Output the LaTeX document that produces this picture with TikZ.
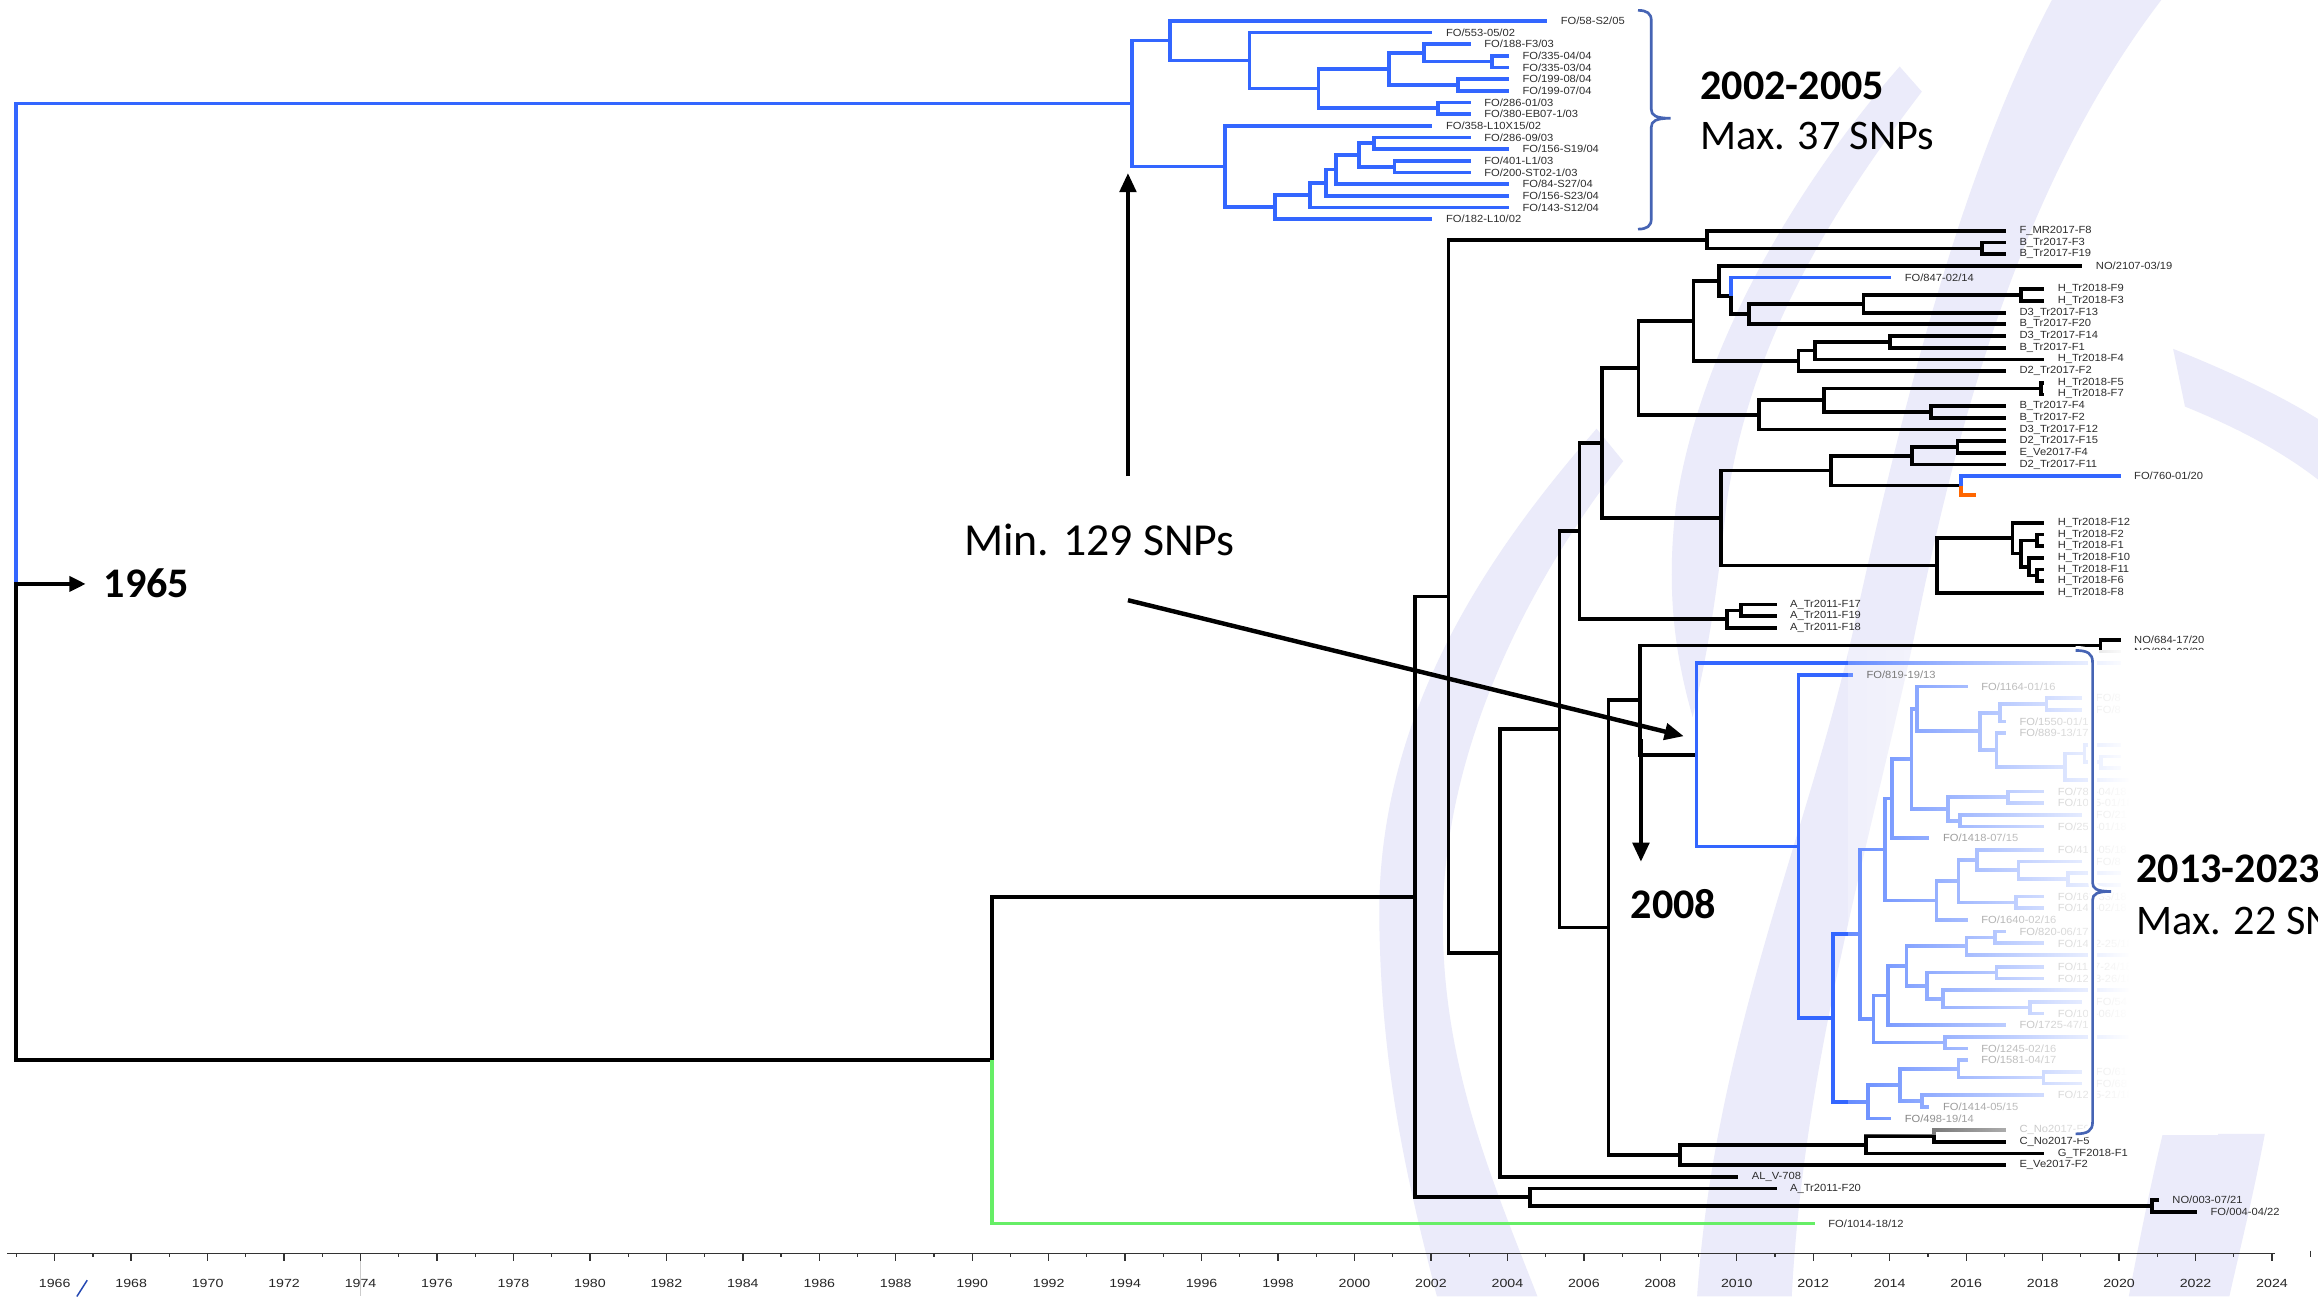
\documentclass[tikz,border=0pt]{standalone}
\usepackage{fontspec}
\setmainfont{Liberation Sans}
\newfontfamily\calib{Carlito}
\usetikzlibrary{arrows.meta,fadings}
\definecolor{tb}{RGB}{51,102,255}
\definecolor{gr}{RGB}{102,238,102}
\definecolor{orng}{RGB}{255,102,0}
\definecolor{brk}{RGB}{70,100,180}
\definecolor{wm}{RGB}{235,235,250}
\definecolor{lblc}{RGB}{45,45,45}
\tikzfading[name=fadeR, left color=transparent!75, right color=transparent!0]
\newcommand\Yr[1]{14+7.9*(#1)}
\newcommand\Tx[1]{38+((#1)-1966)*25.86}
\newcommand\nd[3]{\coordinate (#1) at (#2,{\Yr{#3}});}
\newcommand\lf[4]{\coordinate (#1) at ({\Tx{#2}},{\Yr{#3}});\node[lbl] (#1t) at ([xshift=9pt]#1) {#4};}
\newcommand\lfn[3]{\coordinate (#1) at ({\Tx{#2}},{\Yr{#3}});}
\newcommand\ek[2]{\draw[br] (#1) |- (#2);}
\newcommand\eb[2]{\draw[br,tb] (#1) |- (#2);}
\begin{document}
\begin{tikzpicture}[x=1pt,y=-1pt,
  br/.style={line width=2.5pt},
  lbl/.style={font=\fontsize{7}{8}\selectfont, text=lblc, inner sep=0pt, anchor=west, xscale=1.08},
  ax/.style={font=\fontsize{8}{9}\selectfont, text=black!85, inner sep=0pt, xscale=1.2},
  bigb/.style={font=\calib\bfseries\fontsize{28.5}{30}\selectfont, anchor=base west, inner sep=0pt},
  bign/.style={font=\calib\fontsize{28.5}{30}\selectfont, anchor=base west, inner sep=0pt},
  arr/.style={line width=3pt, -{Triangle[length=13pt,width=11pt]}},
  axc/.style={draw=black!80}]
\fill[white] (0,0) rectangle (1568,877);
\useasboundingbox (0,0) rectangle (1568,877);
\clip (0,0) rectangle (1568,877);
% watermark
\fill[wm] (1080,290) .. controls (1010,370) and (932,480) .. (933,620) .. controls (934,730) and (955,810) .. (972,877) -- (1040,877) .. controls (1010,800) and (975,720) .. (976,620) .. controls (977,500) and (1040,385) .. (1098,312) -- cycle;
\fill[wm] (1388,0) .. controls (1330,110) and (1290,260) .. (1255,420) .. controls (1225,560) and (1160,700) .. (1148,877) -- (1212,877) .. controls (1220,720) and (1265,570) .. (1295,430) .. controls (1325,280) and (1370,120) .. (1462,0) -- cycle;
\fill[wm] (1285,45) .. controls (1215,125) and (1150,235) .. (1134,340) .. controls (1127,395) and (1132,440) .. (1145,485) .. controls (1158,430) and (1163,385) .. (1168,340) .. controls (1182,245) and (1225,160) .. (1300,62) -- cycle;
\fill[wm] (1470,236) .. controls (1505,250) and (1545,268) .. (1575,288) -- (1575,330) .. controls (1545,305) and (1510,288) .. (1478,275) -- cycle;
\fill[wm] (1463,767) -- (1532,767) .. controls (1524,810) and (1514,850) .. (1508,877) -- (1440,877) .. controls (1447,840) and (1455,800) .. (1463,767) -- cycle;
\fill[white, rounded corners=4pt] (1336.6,324.5) rectangle (1590,347.5);
% ---------- leaves
\lf{L0}{2005}{0}{FO/58-S2/05}
\lf{L1}{2002}{1}{FO/553-05/02}
\lf{L2}{2003}{2}{FO/188-F3/03}
\lf{L3}{2004}{3}{FO/335-04/04}
\lf{L4}{2004}{4}{FO/335-03/04}
\lf{L5}{2004}{5}{FO/199-08/04}
\lf{L6}{2004}{6}{FO/199-07/04}
\lf{L7}{2003}{7}{FO/286-01/03}
\lf{L8}{2003}{8}{FO/380-EB07-1/03}
\lf{L9}{2002}{9}{FO/358-L10X15/02}
\lf{L10}{2003}{10}{FO/286-09/03}
\lf{L11}{2004}{11}{FO/156-S19/04}
\lf{L12}{2003}{12}{FO/401-L1/03}
\lf{L13}{2003}{13}{FO/200-ST02-1/03}
\lf{L14}{2004}{14}{FO/84-S27/04}
\lf{L15}{2004}{15}{FO/156-S23/04}
\lf{L16}{2004}{16}{FO/143-S12/04}
\lf{L17}{2002}{17}{FO/182-L10/02}
\lf{L18}{2017}{18}{F\_MR2017-F8}
\lf{L19}{2017}{19}{B\_Tr2017-F3}
\lf{L20}{2017}{20}{B\_Tr2017-F19}
\lf{L21}{2019}{21}{NO/2107-03/19}
\lf{L22}{2014}{22}{FO/847-02/14}
\lf{L23}{2018}{23}{H\_Tr2018-F9}
\lf{L24}{2018}{24}{H\_Tr2018-F3}
\lf{L25}{2017}{25}{D3\_Tr2017-F13}
\lf{L26}{2017}{26}{B\_Tr2017-F20}
\lf{L27}{2017}{27}{D3\_Tr2017-F14}
\lf{L28}{2017}{28}{B\_Tr2017-F1}
\lf{L29}{2018}{29}{H\_Tr2018-F4}
\lf{L30}{2017}{30}{D2\_Tr2017-F2}
\lf{L31}{2018}{31}{H\_Tr2018-F5}
\lf{L32}{2018}{32}{H\_Tr2018-F7}
\lf{L33}{2017}{33}{B\_Tr2017-F4}
\lf{L34}{2017}{34}{B\_Tr2017-F2}
\lf{L35}{2017}{35}{D3\_Tr2017-F12}
\lf{L36}{2017}{36}{D2\_Tr2017-F15}
\lf{L37}{2017}{37}{E\_Ve2017-F4}
\lf{L38}{2017}{38}{D2\_Tr2017-F11}
\lf{L39}{2020}{39}{FO/760-01/20}
\lf{L43}{2018}{43}{H\_Tr2018-F12}
\lf{L44}{2018}{44}{H\_Tr2018-F2}
\lf{L45}{2018}{45}{H\_Tr2018-F1}
\lf{L46}{2018}{46}{H\_Tr2018-F10}
\lf{L47}{2018}{47}{H\_Tr2018-F11}
\lf{L48}{2018}{48}{H\_Tr2018-F6}
\lf{L49}{2018}{49}{H\_Tr2018-F8}
\lf{L50}{2011}{50}{A\_Tr2011-F17}
\lf{L51}{2011}{51}{A\_Tr2011-F19}
\lf{L52}{2011}{52}{A\_Tr2011-F18}
\lf{L53}{2020}{53}{NO/684-17/20}
\lf{L54}{2020}{54}{NO/881-02/20}
\lfn{L55}{2020}{55}
\lf{L56}{2013}{56}{FO/819-19/13}
\lf{L57}{2016}{57}{FO/1164-01/16}
\lf{L58}{2019}{58}{FO/8}
\lf{L59}{2019}{59}{FO/8}
\lf{L60}{2017}{60}{FO/1550-01/17}
\lf{L61}{2017}{61}{FO/889-13/17}
\lfn{L62}{2020}{62}
\lfn{L63}{2020}{63}
\lfn{L64}{2020}{64}
\lfn{L65}{2020.3}{65}
\lf{L66}{2018}{66}{FO/785-04/18}
\lf{L67}{2018}{67}{FO/1015-01/18}
\lf{L68}{2019}{68}{FO/21}
\lf{L69}{2018}{69}{FO/252-01/18}
\lf{L70}{2015}{70}{FO/1418-07/15}
\lf{L71}{2018}{71}{FO/416-05/18}
\lf{L72}{2019}{72}{FO/8}
\lfn{L73}{2020}{73}
\lfn{L74}{2020}{74}
\lf{L75}{2018}{75}{FO/169-33/18}
\lf{L76}{2018}{76}{FO/144-02/18}
\lf{L77}{2016}{77}{FO/1640-02/16}
\lf{L78}{2017}{78}{FO/820-06/17}
\lf{L79}{2018}{79}{FO/1412-25/18}
\lfn{L80}{2020.3}{80}
\lf{L81}{2018}{81}{FO/1127-24/18}
\lf{L82}{2018}{82}{FO/1243-26/18}
\lfn{L83}{2020.3}{83}
\lf{L84}{2019}{84}{FO/54}
\lf{L85}{2018}{85}{FO/104-06/18}
\lf{L86}{2017}{86}{FO/1725-47/17}
\lfn{L87}{2020.3}{87}
\lf{L88}{2016}{88}{FO/1245-02/16}
\lf{L89}{2016}{89}{FO/1581-04/17}
\lf{L90}{2019}{90}{FO/61}
\lf{L91}{2019}{91}{FO/68}
\lf{L92}{2018}{92}{FO/1215-21/18}
\lf{L93}{2015}{93}{FO/1414-05/15}
\lf{L94}{2014}{94}{FO/498-19/14}
\lf{L95}{2017}{95}{C\_No2017-F6}
\lf{L96}{2017}{96}{C\_No2017-F5}
\lf{L97}{2018}{97}{G\_TF2018-F1}
\lf{L98}{2017}{98}{E\_Ve2017-F2}
\lf{L99}{2010}{99}{AL\_V-708}
\lf{L100}{2011}{100}{A\_Tr2011-F20}
\lf{L101}{2021}{101}{NO/003-07/21}
\lf{L102}{2022}{102}{FO/004-04/22}
\lf{L103}{2012}{103}{FO/1014-18/12}
% ---------- internal nodes
\nd{root}{11}{48.05}
\nd{tR}{765.6}{7.095}\nd{tA}{791.5}{1.705}\nd{tB}{845.3}{3.406}\nd{tC}{891.9}{5.8125}
\nd{tD}{939.8}{4.125}\nd{tF}{963.1}{2.75}\nd{tH}{1009.2}{3.5}\nd{tG}{986.4}{5.5}
\nd{tE}{972.7}{7.5}\nd{tJ}{828.5}{12.485}\nd{tK}{862.6}{15.97}\nd{tL}{885.9}{14.9375}
\nd{tM}{897.1}{13.875}\nd{tN}{903.5}{12.75}\nd{tO}{919.1}{11.5}\nd{tP}{929.5}{10.5}\nd{tQ}{943.2}{12.5}
\nd{n671}{671}{89.01}\nd{n957}{957.2}{75.02}\nd{n980}{979.8}{49.295}
\nd{na}{1154.5}{18.75}\nd{nb}{1340.7}{19.5}\nd{n1015}{1014.7}{79.84}\nd{n1055}{1054.9}{60.675}
\nd{n1068}{1068.4}{43.70}\nd{nA11}{1168.1}{51.25}\nd{nA11b}{1177.8}{50.5}
\nd{n1083}{1083.5}{36.16}\nd{n1108}{1108.3}{29.725}\nd{n1145}{1145.5}{25.70}
\nd{n1163}{1162.6}{22.28}\nd{n1171}{1170.9}{23.5625}\nd{n1183}{1183.3}{25.125}
\nd{n1261}{1260.6}{24.25}\nd{n1367}{1366.9}{23.5}\nd{n1216}{1216.5}{29.125}
\nd{n1228}{1227.5}{28.25}\nd{n1279}{1278.6}{27.5}\nd{n1190}{1189.7}{33.75}
\nd{n1234}{1233.6}{32.5}\nd{n1381}{1380.7}{31.5}\nd{n1306}{1306.2}{33.5}
\nd{n1164}{1164.0}{42.59}\nd{n1239}{1238.6}{38.525}\nd{n1293}{1293.2}{37.25}
\nd{n1324}{1324.1}{36.5}\nd{n1326}{1326.3}{39.8}\nd{orS}{1336.6}{40.6}
\nd{n1310}{1310.3}{46.656}\nd{n1361}{1361.4}{44.3125}\nd{n1367h}{1366.9}{45.625}
\nd{n1378a}{1378.0}{44.5}\nd{n1372}{1372.5}{46.75}\nd{n1378b}{1378.0}{47.5}
\nd{n1088}{1088.0}{77.65}\nd{n1109}{1109.4}{58.175}\nd{n1421}{1420.8}{53.5}
\nd{nBl}{1147.5}{62.85}
\nd{f175}{1216.5}{70.70}\nd{f280}{1240.1}{85.40}\nd{f360}{1258.2}{78.23}
\nd{f435}{1275.1}{70.97}\nd{f455}{1279.6}{66.6}\nd{f515}{1293.1}{63.21}
\nd{f530}{1296.5}{58.92}\nd{f720}{1339.3}{60.84}\nd{f780}{1352.9}{59.25}
\nd{f920}{1384.4}{58.5}\nd{f770}{1350.6}{62.44}\nd{f975}{1396.8}{63.875}
\nd{fX}{1410}{62.75}\nd{fY}{1421}{63.5}\nd{f625}{1317.9}{67.5}
\nd{f805}{1358.5}{66.5}\nd{f660}{1325.8}{68.5}\nd{f590}{1310.0}{75.34}
\nd{f655}{1324.7}{73.69}\nd{f710}{1337.1}{71.875}\nd{f835}{1365.3}{72.75}
\nd{f985}{1399.1}{73.5}\nd{f828}{1363.7}{75.5}\nd{f400}{1267.2}{85.48}
\nd{f445}{1277.3}{83.47}\nd{f500}{1289.7}{80.94}\nd{f680}{1330.3}{79.25}
\nd{f765}{1349.5}{78.5}\nd{f560}{1303.3}{82.625}\nd{f770b}{1350.6}{81.5}
\nd{f610}{1314.5}{83.75}\nd{f870}{1373.2}{84.5}\nd{f615}{1315.7}{87.5}
\nd{f385}{1263.8}{92.56}\nd{f480}{1285.2}{91.125}\nd{f655b}{1324.7}{89.75}
\nd{f910}{1382.2}{90.5}\nd{f545}{1299.9}{92.5}
\nd{n1136}{1136.5}{97.125}\nd{n1262}{1262.0}{96.25}\nd{n1308}{1308.4}{95.5}
\nd{n1035}{1035.0}{100.75}\nd{n1456}{1455.6}{101.5}
% ---------- edges: 2002-2005 clade
\eb{root}{tR}
\eb{tR}{tA}\eb{tR}{tJ}
\eb{tA}{L0}\eb{tA}{tB}
\eb{tB}{L1}\eb{tB}{tC}
\eb{tC}{tD}\eb{tC}{tE}
\eb{tD}{tF}\eb{tD}{tG}
\eb{tF}{L2}\eb{tF}{tH}
\eb{tH}{L3}\eb{tH}{L4}
\eb{tG}{L5}\eb{tG}{L6}
\eb{tE}{L7}\eb{tE}{L8}
\eb{tJ}{L9}\eb{tJ}{tK}
\eb{tK}{tL}\eb{tK}{L17}
\eb{tL}{tM}\eb{tL}{L16}
\eb{tM}{tN}\eb{tM}{L15}
\eb{tN}{tO}\eb{tN}{L14}
\eb{tO}{tP}\eb{tO}{tQ}
\eb{tP}{L10}\eb{tP}{L11}
\eb{tQ}{L12}\eb{tQ}{L13}
% ---------- edges: rest
\ek{root}{n671}
\draw[br,gr] (n671) |- (L103);
\ek{n671}{n957}
\ek{n957}{n980}\ek{n957}{n1035}
\ek{n980}{na}\ek{n980}{n1015}
\ek{na}{L18}\ek{na}{nb}\ek{nb}{L19}\ek{nb}{L20}
\ek{n1015}{n1055}\ek{n1015}{L99}
\ek{n1055}{n1068}\ek{n1055}{n1088}
\ek{n1068}{n1083}\ek{n1068}{nA11}
\ek{nA11}{nA11b}\ek{nA11}{L52}\ek{nA11b}{L50}\ek{nA11b}{L51}
\ek{n1083}{n1108}\ek{n1083}{n1164}
\ek{n1108}{n1145}\ek{n1108}{n1190}
\ek{n1145}{n1163}\ek{n1145}{n1216}
\ek{n1163}{L21}\ek{n1163}{n1171}
\eb{n1171}{L22}\ek{n1171}{n1183}
\ek{n1183}{n1261}\ek{n1183}{L26}
\ek{n1261}{n1367}\ek{n1261}{L25}
\ek{n1367}{L23}\ek{n1367}{L24}
\ek{n1216}{n1228}\ek{n1216}{L30}
\ek{n1228}{n1279}\ek{n1228}{L29}
\ek{n1279}{L27}\ek{n1279}{L28}
\ek{n1190}{n1234}\ek{n1190}{L35}
\ek{n1234}{n1381}\ek{n1234}{n1306}
\ek{n1381}{L31}\ek{n1381}{L32}
\ek{n1306}{L33}\ek{n1306}{L34}
\ek{n1164}{n1239}\ek{n1164}{n1310}
\ek{n1239}{n1293}\ek{n1239}{n1326}
\ek{n1293}{n1324}\ek{n1293}{L38}
\ek{n1324}{L36}\ek{n1324}{L37}
\eb{n1326}{L39}\draw[br,orng] (n1326) |- (orS);
\ek{n1310}{n1361}\ek{n1310}{L49}
\ek{n1361}{L43}\ek{n1361}{n1367h}
\ek{n1367h}{n1378a}\ek{n1367h}{n1372}
\ek{n1378a}{L44}\ek{n1378a}{L45}
\ek{n1372}{L46}\ek{n1372}{n1378b}
\ek{n1378b}{L47}\ek{n1378b}{L48}
\ek{n1088}{n1109}\ek{n1088}{n1136}
\ek{n1109}{n1421}\ek{n1109}{nBl}
\ek{n1421}{L53}\ek{n1421}{L54}
\eb{nBl}{L55}\eb{nBl}{f175}
\eb{f175}{L56}\eb{f175}{f280}
\eb{f280}{f360}\eb{f280}{f385}
\eb{f360}{f435}\eb{f360}{f400}
\eb{f435}{f455}\eb{f435}{f590}
\eb{f455}{f515}\eb{f455}{L70}
\eb{f515}{f530}\eb{f515}{f625}
\eb{f530}{L57}\eb{f530}{f720}
\eb{f720}{f780}\eb{f720}{f770}
\eb{f780}{f920}\eb{f780}{L60}
\eb{f920}{L58}\eb{f920}{L59}
\eb{f770}{L61}\eb{f770}{f975}
\eb{f975}{fX}\eb{f975}{L65}
\eb{fX}{L62}\eb{fX}{fY}
\eb{fY}{L63}\eb{fY}{L64}
\eb{f625}{f805}\eb{f625}{f660}
\eb{f805}{L66}\eb{f805}{L67}
\eb{f660}{L68}\eb{f660}{L69}
\eb{f590}{f655}\eb{f590}{L77}
\eb{f655}{f710}\eb{f655}{f828}
\eb{f710}{L71}\eb{f710}{f835}
\eb{f835}{L72}\eb{f835}{f985}
\eb{f985}{L73}\eb{f985}{L74}
\eb{f828}{L75}\eb{f828}{L76}
\eb{f400}{f445}\eb{f400}{f615}
\eb{f445}{f500}\eb{f445}{L86}
\eb{f500}{f680}\eb{f500}{f560}
\eb{f680}{f765}\eb{f680}{L80}
\eb{f765}{L78}\eb{f765}{L79}
\eb{f560}{f770b}\eb{f560}{f610}
\eb{f770b}{L81}\eb{f770b}{L82}
\eb{f610}{L83}\eb{f610}{f870}
\eb{f870}{L84}\eb{f870}{L85}
\eb{f615}{L87}\eb{f615}{L88}
\eb{f385}{f480}\eb{f385}{L94}
\eb{f480}{f655b}\eb{f480}{f545}
\eb{f655b}{L89}\eb{f655b}{f910}
\eb{f910}{L90}\eb{f910}{L91}
\eb{f545}{L92}\eb{f545}{L93}
\ek{n1136}{n1262}\ek{n1136}{L98}
\ek{n1262}{n1308}\ek{n1262}{L97}
\ek{n1308}{L95}\ek{n1308}{L96}
\ek{n1035}{L100}\ek{n1035}{n1456}
\ek{n1456}{L101}\ek{n1456}{L102}
% ---------- fade overlay on the 2013-2023 clade
\fill[white, path fading=fadeR] (1250,440) rectangle (1440,768);
\fill[white] (1440,440) rectangle (1500,768);
% ---------- brackets
\draw[brk, line width=1.8pt] (1108,7) .. controls (1114,7) and (1117,9) .. (1117,14) -- (1117,74) .. controls (1117,78) and (1120,80) .. (1130,80) .. controls (1120,80) and (1117,82) .. (1117,86) -- (1117,148) .. controls (1117,153) and (1114,155) .. (1108,155);
\draw[white, line width=6pt] (1404,440) .. controls (1412,440) and (1415.5,442) .. (1415.5,448) -- (1415.5,597) .. controls (1415.5,601) and (1418,603) .. (1428,603) .. controls (1418,603) and (1415.5,605) .. (1415.5,609) -- (1415.5,759) .. controls (1415.5,765) and (1412,767) .. (1404,767);
\draw[brk, line width=1.8pt] (1404,440) .. controls (1412,440) and (1415.5,442) .. (1415.5,448) -- (1415.5,597) .. controls (1415.5,601) and (1418,603) .. (1428,603) .. controls (1418,603) and (1415.5,605) .. (1415.5,609) -- (1415.5,759) .. controls (1415.5,765) and (1412,767) .. (1404,767);
% ---------- annotations
\node[bigb] (tA1) at (1150,67) {2002-2005};
\node[bign] (tA2) at (1150,101) {Max. 37 SNPs};
\node[bign, font=\calib\fontsize{31}{33}\selectfont] (tmin) at (652,376) {Min. 129 SNPs};
\node[bigb] (t1965) at (70,404) {1965};
\node[bigb] (t2008) at (1103,621) {2008};
\node[bigb] (tB1) at (1445,597) {2013-2023};
\node[bign] (tB2) at (1445,632) {Max. 22 SNPs};
\coordinate (aU1) at (763,322); \coordinate (aU2) at (763,117);
\coordinate (aD1) at (763,406); \coordinate (aD2) at (1139,498);
\coordinate (a8a) at (1110,500); \coordinate (a8b) at (1110,583);
\coordinate (a65a) at (11,395); \coordinate (a65b) at (58,395);
\draw[arr] (aU1) -- (aU2);
\draw[arr] (aD1) -- (aD2);
\draw[arr] (a8a) -- (a8b);
\draw[line width=3pt, -{Triangle[length=11pt,width=10pt]}] (a65a) -- (a65b);
% ---------- axis
\draw[black!20, line width=0.6pt] (243.9,848) -- (243.9,877);
\draw[axc, line width=1.1pt] (5,848) -- (1539,848);
\foreach \yy in {1966,1968,...,2024} {
  \draw[axc, line width=0.9pt] ({37+(\yy-1966)*25.86},848) -- ++(0,5);
  \node[ax] (ax\yy) at ({37+(\yy-1966)*25.86},868) {\yy};
}
\foreach \yy in {1965,1967,...,2023} {
  \draw[axc, line width=0.8pt] ({37+(\yy-1966)*25.86},848) -- ++(0,2.5);
}
\draw[axc, line width=0.8pt] (1562.7,846) -- (1562.7,850);
\draw[tb!70!black, line width=1pt] (52,877) -- (59,866);
\end{tikzpicture}
\end{document}
